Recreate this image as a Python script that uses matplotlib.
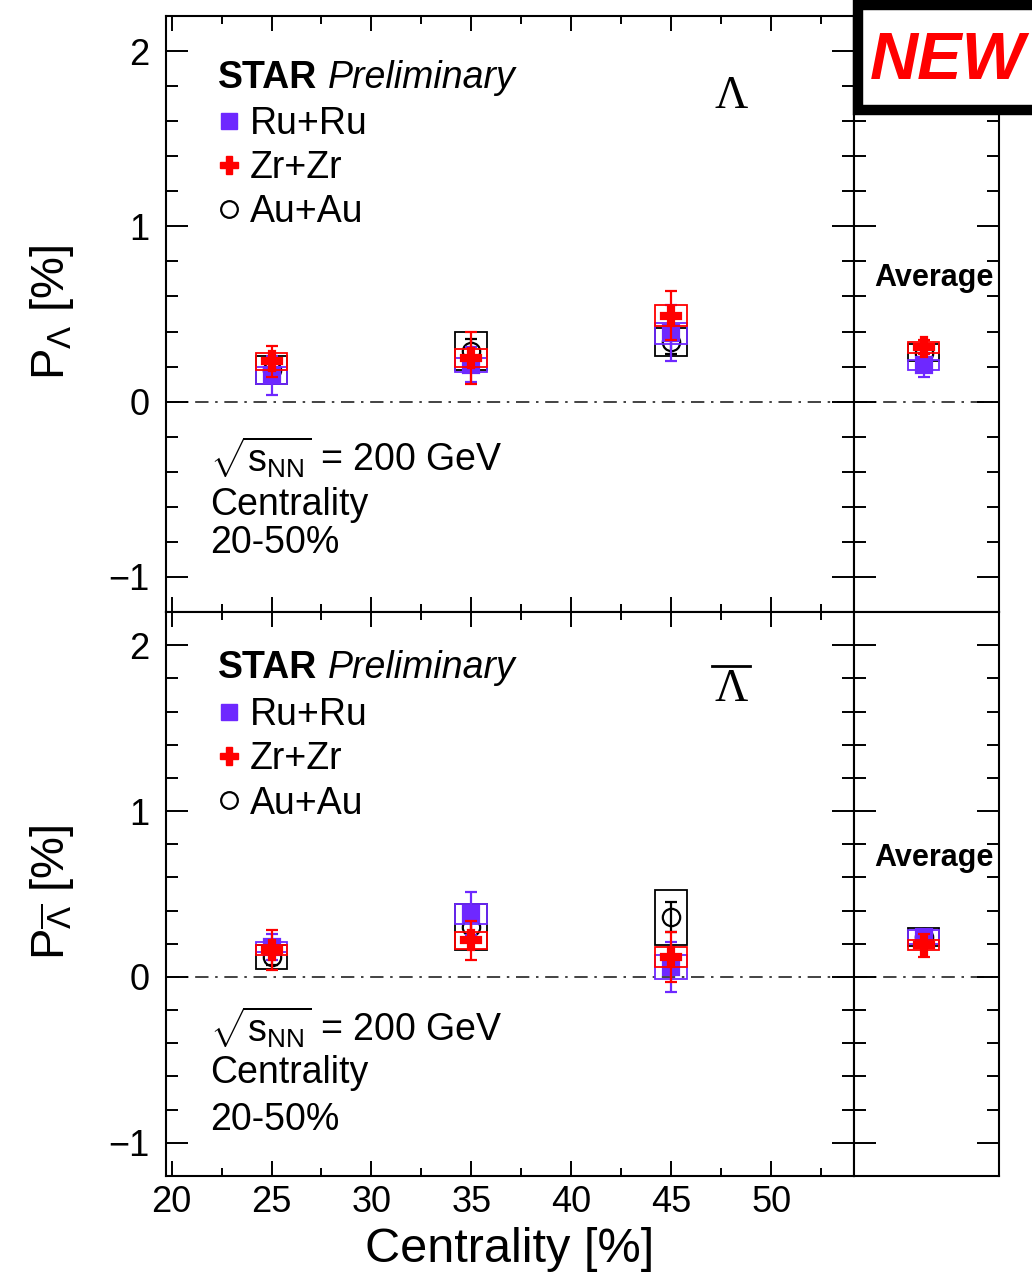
import numpy as np
import matplotlib
matplotlib.use("Agg")
import matplotlib.pyplot as plt
from matplotlib.lines import Line2D
from matplotlib.patches import Rectangle
from matplotlib.ticker import MultipleLocator

plt.rcParams['font.family'] = ['Liberation Sans', 'DejaVu Sans']
plt.rcParams['mathtext.fontset'] = 'custom'
plt.rcParams['mathtext.rm'] = 'Liberation Sans'
plt.rcParams['mathtext.it'] = 'Liberation Sans:italic'
plt.rcParams['mathtext.bf'] = 'Liberation Sans:bold'
plt.rcParams['axes.linewidth'] = 1.5

W, H = 1032, 1276

# ---- data: global polarization vs centrality ----
centrality = [25, 35, 45]
systems = ['Ru+Ru', 'Zr+Zr', 'Au+Au']

# Lambda
lam_ru = [0.15, 0.21, 0.39]
lam_ru_stat = [0.11, 0.10, 0.16]
lam_ru_sys = [0.05, 0.04, 0.06]
lam_zr = [0.23, 0.25, 0.49]
lam_zr_stat = [0.09, 0.15, 0.14]
lam_zr_sys = [0.05, 0.05, 0.06]
lam_au = [0.18, 0.29, 0.34]
lam_au_stat = [0.05, 0.07, 0.07]
lam_au_sys = [0.08, 0.11, 0.08]

# anti-Lambda
alam_ru = [0.18, 0.38, 0.06]
alam_ru_stat = [0.08, 0.13, 0.15]
alam_ru_sys = [0.03, 0.06, 0.07]
alam_zr = [0.16, 0.22, 0.12]
alam_zr_stat = [0.12, 0.12, 0.15]
alam_zr_sys = [0.03, 0.05, 0.06]
alam_au = [0.12, 0.30, 0.36]
alam_au_stat = [0.05, 0.07, 0.09]
alam_au_sys = [0.07, 0.14, 0.165]

# 20-50% averages (Ru, Zr, Au)
lam_avg = [0.21, 0.31, 0.28]
lam_avg_stat = [0.07, 0.04, 0.03]
lam_avg_sys = [0.03, 0.03, 0.05]
alam_avg = [0.24, 0.19, 0.24]
alam_avg_stat = [0.04, 0.07, 0.03]
alam_avg_sys = [0.04, 0.03, 0.055]

RU_COLOR = '#6e28ff'
ZR_COLOR = '#ff0000'
AU_COLOR = '#000000'

fig = plt.figure(figsize=(W / 100, H / 100), dpi=100)


def px_axes(x0, y0, x1, y1):
    return [x0 / W, 1 - y1 / H, (x1 - x0) / W, (y1 - y0) / H]


def draw_system(ax, x, y, stat, sys, color, marker, mfc, ms, bw, z):
    y = np.asarray(y)
    sys = np.asarray(sys)
    ax.bar(x, 2 * sys, bottom=y - sys, width=bw, fill=False,
           edgecolor=color, linewidth=1.3, zorder=z)
    ax.errorbar(x, y, yerr=stat, fmt=marker, color=color, mfc=mfc,
                mec=color, mew=1.6, ms=ms, capsize=4, elinewidth=1.6,
                capthick=1.6, zorder=z + 1)


def style_main(ax, show_xlabels):
    ax.set_xlim(19.72, 54.15)
    ax.set_ylim(-1.2, 2.2)
    ax.xaxis.set_major_locator(MultipleLocator(5))
    ax.xaxis.set_minor_locator(MultipleLocator(2.5))
    ax.yaxis.set_major_locator(MultipleLocator(1))
    ax.yaxis.set_minor_locator(MultipleLocator(0.2))
    ax.tick_params(axis='both', which='both', direction='in',
                   top=True, right=True, width=1.4, colors='black')
    ax.tick_params(axis='x', which='major', length=10.8, pad=6.5,
                   labelsize=26, labelbottom=show_xlabels)
    ax.tick_params(axis='x', which='minor', length=5.8)
    ax.tick_params(axis='y', which='major', length=15.8, pad=12, labelsize=26)
    ax.tick_params(axis='y', which='minor', length=8.6)
    ax.axhline(0, color='#222222', lw=1.2, dashes=(8, 4, 1.5, 4), zorder=1)


def style_avg(ax):
    ax.set_xlim(0, 1)
    ax.set_ylim(-1.2, 2.2)
    ax.set_xticks([])
    ax.yaxis.set_major_locator(MultipleLocator(1))
    ax.yaxis.set_minor_locator(MultipleLocator(0.2))
    ax.tick_params(axis='y', which='both', direction='in', left=True,
                   right=True, labelleft=False, width=1.4)
    ax.tick_params(axis='y', which='major', length=15.8)
    ax.tick_params(axis='y', which='minor', length=8.6)
    ax.axhline(0, color='#222222', lw=1.2, dashes=(8, 4, 1.5, 4), zorder=1)


ax_top = fig.add_axes(px_axes(166, 16, 854, 612))
ax_bot = fig.add_axes(px_axes(166, 612, 854, 1176))
av_top = fig.add_axes(px_axes(854, 16, 999, 612))
av_bot = fig.add_axes(px_axes(854, 612, 999, 1176))

for ax in (ax_top, ax_bot):
    style_main(ax, ax is ax_bot)
for ax in (av_top, av_bot):
    style_avg(ax)

MS_SQ, MS_CROSS, MS_CIRC = 12, 14, 12.5
BW = 1.6
panels = [
    (ax_top, (lam_au, lam_au_stat, lam_au_sys),
     (lam_ru, lam_ru_stat, lam_ru_sys), (lam_zr, lam_zr_stat, lam_zr_sys)),
    (ax_bot, (alam_au, alam_au_stat, alam_au_sys),
     (alam_ru, alam_ru_stat, alam_ru_sys), (alam_zr, alam_zr_stat, alam_zr_sys)),
]
for ax, au, ru, zr in panels:
    draw_system(ax, centrality, *au, AU_COLOR, 'o', 'none', MS_CIRC, BW, 3)
    draw_system(ax, centrality, *ru, RU_COLOR, 's', RU_COLOR, MS_SQ, BW, 5)
    draw_system(ax, centrality, *zr, ZR_COLOR, 'P', ZR_COLOR, MS_CROSS, BW, 7)

AVG_X = [0.48]
AVG_BW = 0.21
for ax, vals, stats, syss in ((av_top, lam_avg, lam_avg_stat, lam_avg_sys),
                              (av_bot, alam_avg, alam_avg_stat, alam_avg_sys)):
    draw_system(ax, AVG_X, [vals[2]], [stats[2]], [syss[2]], AU_COLOR, 'o', 'none', MS_CIRC, AVG_BW, 3)
    draw_system(ax, AVG_X, [vals[0]], [stats[0]], [syss[0]], RU_COLOR, 's', RU_COLOR, MS_SQ, AVG_BW, 5)
    draw_system(ax, AVG_X, [vals[1]], [stats[1]], [syss[1]], ZR_COLOR, 'P', ZR_COLOR, MS_CROSS, AVG_BW, 7)


def ftext(px, py, s, **kw):
    return fig.text(px / W, 1 - py / H, s, **kw)


# legends and annotations
handles = [
    Line2D([], [], ls='none', marker='s', color=RU_COLOR, ms=11),
    Line2D([], [], ls='none', marker='P', color=ZR_COLOR, ms=13),
    Line2D([], [], ls='none', marker='o', mfc='none', mec=AU_COLOR, mew=1.6, ms=12),
]
for ax, ytop, ystar, ylab, sq_y, lam_overline in (
        (ax_top, 106, 78, 97, (458, 505, 543), False),
        (ax_bot, 697, 668, 690, (1028, 1073, 1120), True)):
    leg = ax.legend(handles, systems, loc='upper left',
                    bbox_to_anchor=(220 / W, 1 - ytop / H),
                    bbox_transform=fig.transFigure, frameon=False,
                    fontsize=27, handlelength=0.5, handletextpad=0.3,
                    borderpad=0, borderaxespad=0, labelspacing=0.22)
    ftext(218, ystar, 'STAR', fontsize=27, fontweight='bold', va='center')
    ftext(328, ystar, 'Preliminary', fontsize=27, fontstyle='italic', va='center')
    ftext(731, ylab, 'Λ', fontsize=33, family=['Liberation Serif', 'DejaVu Serif'],
          ha='center', va='center')
    if lam_overline:
        fig.add_artist(Line2D([712 / W, 750 / W], [1 - 666 / H, 1 - 666 / H],
                              color='black', lw=2.0))
    ftext(210, sq_y[0], r'$\sqrt{\mathrm{s}_{\mathrm{NN}}}$ = 200 GeV', fontsize=27, va='center')
    ftext(210, sq_y[1], 'Centrality', fontsize=27, va='center')
    ftext(210, sq_y[2], '20-50%', fontsize=27, va='center')

ftext(934, 278, 'Average', fontsize=22, fontweight='bold', ha='center', va='center')
ftext(934, 858, 'Average', fontsize=22, fontweight='bold', ha='center', va='center')

# axis titles
ftext(52, 312, r'P$_{\mathrm{\Lambda}}$ [%]', fontsize=34, rotation=90,
      ha='center', va='center')
ftext(52, 892, r'P$_{\overline{\mathrm{\Lambda}}}$ [%]', fontsize=34, rotation=90,
      ha='center', va='center')
ftext(510, 1250, 'Centrality [%]', fontsize=35, ha='center', va='center')

# "NEW" badge
fig.add_artist(Rectangle((858 / W, 1 - 110 / H), (1100 - 858) / W, (110 - 5) / H,
                         transform=fig.transFigure, facecolor='white',
                         edgecolor='black', lw=7.5, zorder=10))
ftext(948, 62, 'NEW', color='red', fontsize=48, fontweight='bold',
      fontstyle='italic', ha='center', va='center', zorder=11)

fig.savefig('out.png', dpi=100)
